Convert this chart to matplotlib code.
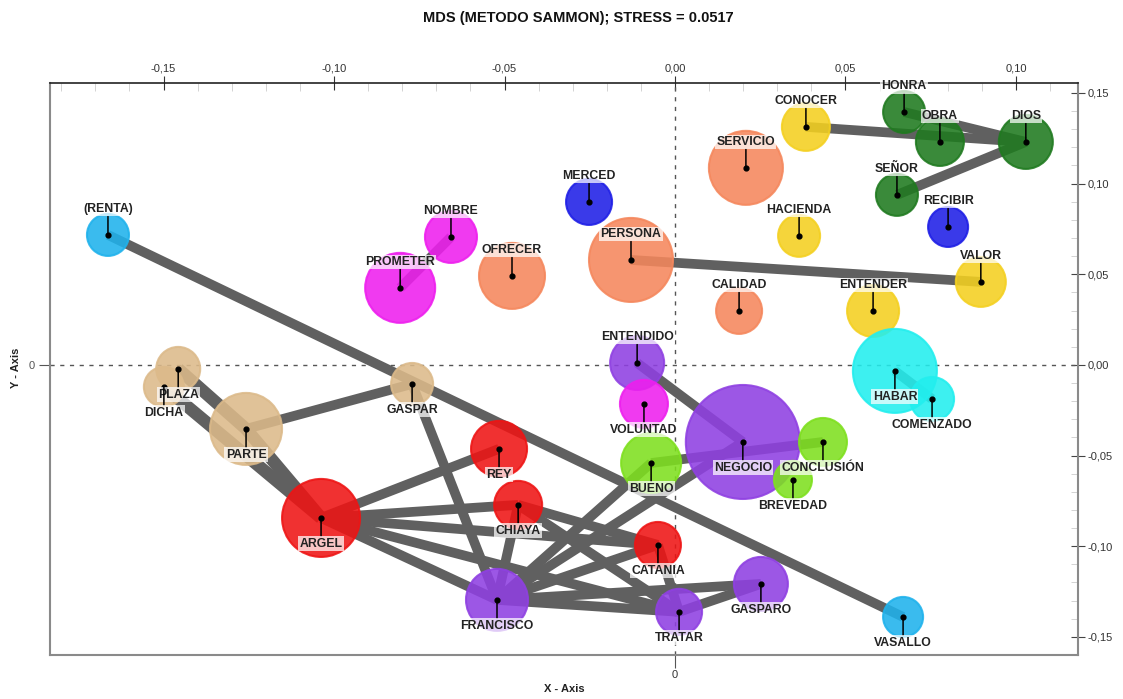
import matplotlib
matplotlib.use("Agg")
import matplotlib.pyplot as plt
from matplotlib.ticker import FixedLocator, MultipleLocator, FuncFormatter

plt.rcParams['font.family'] = ['Liberation Sans', 'DejaVu Sans']

# ---- data ----
words = ["(RENTA)", "NOMBRE", "PROMETER", "OFRECER", "MERCED", "PERSONA", "SERVICIO",
         "CONOCER", "HONRA", "OBRA", "DIOS", "SEÑOR", "RECIBIR", "HACIENDA", "VALOR",
         "CALIDAD", "ENTENDER", "HABAR", "COMENZADO", "ENTENDIDO", "VOLUNTAD", "NEGOCIO",
         "CONCLUSIÓN", "BREVEDAD", "BUENO", "PLAZA", "DICHA", "PARTE", "GASPAR", "REY",
         "CHIAYA", "ARGEL", "CATANIA", "FRANCISCO", "TRATAR", "GASPARO", "VASALLO"]
x_coord = [-0.1663, -0.0657, -0.0806, -0.0478, -0.0252, -0.0129, 0.0208,
           0.0384, 0.0672, 0.0777, 0.1029, 0.0651, 0.0801, 0.0364, 0.0897,
           0.0188, 0.0581, 0.0645, 0.0754, -0.0111, -0.0091, 0.0199,
           0.0434, 0.0346, -0.0070, -0.1457, -0.1499, -0.1258, -0.0771, -0.0516,
           -0.0460, -0.1038, -0.0050, -0.0522, 0.0012, 0.0252, 0.0669]
y_coord = [0.0717, 0.0706, 0.0425, 0.0491, 0.0899, 0.0579, 0.1087,
           0.1313, 0.1395, 0.1230, 0.1230, 0.0938, 0.0761, 0.0712, 0.0458,
           0.0298, 0.0298, -0.0033, -0.0188, 0.0011, -0.0215, -0.0425,
           -0.0425, -0.0634, -0.0541, -0.0022, -0.0121, -0.0353, -0.0105, -0.0463,
           -0.0772, -0.0844, -0.0993, -0.1296, -0.1362, -0.1208, -0.1390]
weight = [21, 26, 35, 33, 23, 42, 37,
          24, 21, 24, 27, 21, 20, 21, 25,
          23, 26, 42, 22, 27, 24, 57,
          24, 19, 30, 22, 20, 36, 21, 28,
          24, 39, 23, 31, 23, 27, 20]
group = ["sky", "magenta", "magenta", "salmon", "blue", "salmon", "salmon",
         "yellow", "green", "green", "green", "green", "blue", "yellow", "yellow",
         "salmon", "yellow", "cyan", "cyan", "purple", "magenta", "purple",
         "lime", "lime", "lime", "tan", "tan", "tan", "tan", "red",
         "red", "red", "red", "purple", "purple", "purple", "sky"]
label_side = [1, 1, 1, 1, 1, 1, 1,
              1, 1, 1, 1, 1, 1, 1, 1,
              1, 1, -1, -1, 1, -1, -1,
              -1, -1, -1, -1, -1, -1, -1, -1,
              -1, -1, -1, -1, -1, -1, -1]
edges = [("(RENTA)", "VASALLO"), ("PERSONA", "VALOR"), ("CONOCER", "DIOS"),
         ("HONRA", "DIOS"), ("SEÑOR", "DIOS"), ("NOMBRE", "PROMETER"),
         ("HABAR", "COMENZADO"), ("ENTENDIDO", "NEGOCIO"), ("BUENO", "CONCLUSIÓN"),
         ("PLAZA", "PARTE"), ("DICHA", "ARGEL"), ("PARTE", "ARGEL"),
         ("PARTE", "GASPAR"), ("GASPAR", "FRANCISCO"), ("ARGEL", "REY"),
         ("ARGEL", "CHIAYA"), ("ARGEL", "CATANIA"), ("ARGEL", "FRANCISCO"),
         ("ARGEL", "TRATAR"), ("CHIAYA", "FRANCISCO"), ("CHIAYA", "CATANIA"),
         ("CHIAYA", "TRATAR"), ("FRANCISCO", "BUENO"), ("FRANCISCO", "NEGOCIO"),
         ("FRANCISCO", "CATANIA"), ("FRANCISCO", "TRATAR"), ("FRANCISCO", "GASPARO"),
         ("TRATAR", "GASPARO"), ("CATANIA", "TRATAR")]
tick_vals = [-0.15, -0.10, -0.05, 0.00, 0.05, 0.10]
ytick_vals = [-0.15, -0.10, -0.05, 0.00, 0.05, 0.10, 0.15]
title = "MDS (METODO SAMMON); STRESS = 0.0517"

palette = {"sky": "#1fb2ec", "magenta": "#ee1eee", "salmon": "#f5875c", "blue": "#1e1ee6",
           "yellow": "#f4d020", "green": "#1f7a1f", "cyan": "#22eeee", "purple": "#8f40e2",
           "lime": "#7ee01e", "tan": "#dcba8a", "red": "#ee1414"}

# ---- figure ----
fig = plt.figure(figsize=(11.23, 6.99), dpi=100)
ax = fig.add_axes([50 / 1123, 1 - 655 / 699, (1078 - 50) / 1123, (655 - 83) / 699])
ax.set_xlim(-0.1833, 0.1182)
ax.set_ylim(-0.160, 0.1555)

idx = {w: i for i, w in enumerate(words)}
for a, b in edges:
    i, j = idx[a], idx[b]
    thick = 9 if (a, b) in [("PLAZA", "PARTE"), ("PARTE", "ARGEL"), ("DICHA", "ARGEL")] else 7
    ax.plot([x_coord[i], x_coord[j]], [y_coord[i], y_coord[j]], color="#606060",
            lw=thick, solid_capstyle="butt", zorder=1)

sizes = [(2 * r * 0.72) ** 2 for r in weight]
cols = [palette[g] for g in group]
ax.scatter(x_coord, y_coord, s=sizes, c=cols, alpha=0.88, edgecolors=cols,
           linewidths=1.5, zorder=2)
ax.scatter(x_coord, y_coord, s=12, c="black", zorder=4)

for i, w in enumerate(words):
    off = 18.5 if label_side[i] > 0 else -18.5
    ax.annotate(w, (x_coord[i], y_coord[i]), xytext=(0, off), textcoords="offset points",
                ha="center", va="center", fontsize=8.8, fontweight="bold", color="#222222",
                bbox=dict(boxstyle="square,pad=0.1", fc="white", ec="none", alpha=0.72),
                arrowprops=dict(arrowstyle="-", color="black", lw=1.1, shrinkA=0, shrinkB=0),
                zorder=5)

ax.axvline(0, color="#555555", lw=1, ls=(0, (3, 4)), zorder=0.5)
ax.axhline(0, color="#555555", lw=1, ls=(0, (3, 4)), zorder=0.5)

# spines
for s in ["left", "bottom", "right"]:
    ax.spines[s].set_color("#8a8a8a")
    ax.spines[s].set_linewidth(1.5)
ax.spines["top"].set_color("#222222")
ax.spines["top"].set_linewidth(1.2)

# bottom / left : only zero
ax.set_xticks([0])
ax.set_xticklabels(["0"])
ax.set_yticks([0])
ax.set_yticklabels(["0"])
ax.tick_params(axis="x", direction="out", length=9, color="#555555", labelsize=8,
               labelcolor="#333333", pad=2)
ax.tick_params(axis="y", direction="out", length=8, color="#555555", labelsize=8,
               labelcolor="#555555", pad=3)
fig.text(564 / 1123, 1 - 689 / 699, "X - Axis", ha="center", va="center", fontsize=8,
         fontweight="bold", color="#222222")
fig.text(16 / 1123, 1 - 368 / 699, "Y - Axis", ha="center", va="center", fontsize=8,
         fontweight="bold", color="#222222", rotation=90)

fmt = FuncFormatter(lambda v, p: ("%.2f" % v).replace(".", ","))

top = ax.secondary_xaxis("top")
top.xaxis.set_major_locator(FixedLocator(tick_vals))
top.xaxis.set_minor_locator(MultipleLocator(0.01))
top.xaxis.set_major_formatter(fmt)
top.tick_params(which="major", direction="inout", length=10, color="#333333",
                labelsize=8, labelcolor="#333333", pad=2)
top.tick_params(which="minor", direction="in", length=6, color="#cccccc")
top.spines["top"].set_visible(False)

right = ax.secondary_yaxis("right")
right.yaxis.set_major_locator(FixedLocator(ytick_vals))
right.yaxis.set_minor_locator(MultipleLocator(0.01))
right.yaxis.set_major_formatter(fmt)
right.tick_params(which="major", direction="inout", length=10, color="#444444",
                  labelsize=8, labelcolor="#333333", pad=2)
right.tick_params(which="minor", direction="in", length=5, color="#cccccc")
right.spines["right"].set_visible(False)

fig.text(578 / 1123, 1 - 18 / 699, title, ha="center", va="center", fontsize=10.5,
         fontweight="bold", color="#111111")

fig.savefig("out.png", dpi=100)
